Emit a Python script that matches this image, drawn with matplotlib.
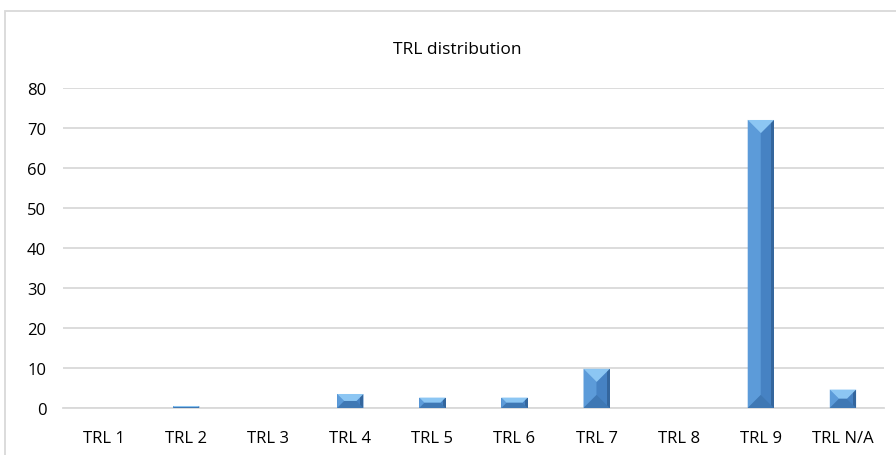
import matplotlib.pyplot as plt
from matplotlib.patches import Polygon, Rectangle

categories = ['TRL 1', 'TRL 2', 'TRL 3', 'TRL 4', 'TRL 5', 'TRL 6', 'TRL 7', 'TRL 8', 'TRL 9', 'TRL N/A']
values = [0, 0.5, 0, 3.5, 2.6, 2.6, 9.8, 0, 72, 4.6]
yticks = [0, 10, 20, 30, 40, 50, 60, 70, 80]

plt.rcParams['font.family'] = ['Open Sans', 'DejaVu Sans']

fig = plt.figure(figsize=(8.96, 4.56), dpi=100)
ax = fig.add_axes([0.0703, 0.1031, 0.9163, 0.7018])

w = 0.32
face = '#4a89cc'
x = list(range(len(categories)))
ax.bar(x, values, width=w, color=face, zorder=3)
ax.set_xlim(-0.5, len(categories) - 0.5)
ax.set_ylim(0, 80)

# bevel facets (mitered, like the Excel bevel)
fig.canvas.draw()
bb = ax.get_window_extent()
ux = len(categories) / bb.width
uy = 80 / bb.height
for i, v in enumerate(values):
    if v <= 0:
        continue
    x0, x1 = i - w / 2, i + w / 2
    y0, y1 = 0, v
    wpx = w / ux
    hpx = v / uy
    d = min(wpx / 2, hpx / 2)
    dx, dy = d * ux, d * uy
    e = min(3, wpx / 2) * ux
    facets = [
        ([(x0, y0), (x0, y1), (x0 + dx, y1 - dy), (x0 + dx, y0 + dy)], '#5c9bd9'),
        ([(x1, y0), (x1, y1), (x1 - dx, y1 - dy), (x1 - dx, y0 + dy)], '#4682c3'),
        ([(x1 - e, y0), (x1 - e, y1), (x1, y1), (x1, y0)], '#34669d'),
        ([(x0, y1), (x1, y1), (x1 - dx, y1 - dy), (x0 + dx, y1 - dy)], '#8cc6f3'),
        ([(x0, y0), (x1, y0), (x1 - dx, y0 + dy), (x0 + dx, y0 + dy)], '#3f78b4'),
    ]
    for pts, c in facets:
        ax.add_patch(Polygon(pts, closed=True, facecolor=c, edgecolor='none', zorder=4))

ax.set_yticks(yticks)
ax.yaxis.grid(True, color='#d9d9d9', linewidth=1.3, zorder=0)
ax.set_xticks(x)
ax.set_xticklabels(categories)
ax.tick_params(length=0, labelsize=12, colors='#000000')
ax.tick_params(axis='x', pad=16)
ax.tick_params(axis='y', pad=12)
for s in ['top', 'right', 'left']:
    ax.spines[s].set_visible(False)
ax.spines['bottom'].set_color('#d9d9d9')
ax.spines['bottom'].set_linewidth(1.3)

fig.text(0.51, 1 - 50 / 456, 'TRL distribution', ha='center', va='center', fontsize=12.5)
fig.add_artist(Rectangle((5 / 896, -0.05), 1.1, 1.05 - 12 / 456, transform=fig.transFigure,
                         fill=False, edgecolor='#d9d9d9', linewidth=1.3))

fig.savefig('out.png', dpi=100)
